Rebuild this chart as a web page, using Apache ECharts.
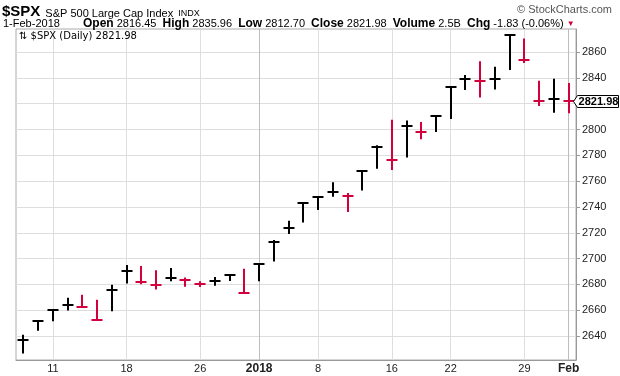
<!DOCTYPE html>
<html>
<head>
<meta charset="utf-8">
<script src="https://cdn.jsdelivr.net/npm/echarts@6/dist/echarts.min.js"></script>
<style>
html, body { margin: 0; padding: 0; background: #fff; }
#chart { width: 620px; height: 376px; }
</style>
</head>
<body>
<div id="chart"></div>
<script>
// daily bars, $SPX, 7-Dec-2017 .. 1-Feb-2018
var dates = ['2017-12-07','2017-12-08','2017-12-11','2017-12-12','2017-12-13','2017-12-14','2017-12-15',
  '2017-12-18','2017-12-19','2017-12-20','2017-12-21','2017-12-22','2017-12-26','2017-12-27','2017-12-28',
  '2017-12-29','2018-01-02','2018-01-03','2018-01-04','2018-01-05','2018-01-08','2018-01-09','2018-01-10',
  '2018-01-11','2018-01-12','2018-01-16','2018-01-17','2018-01-18','2018-01-19','2018-01-22','2018-01-23',
  '2018-01-24','2018-01-25','2018-01-26','2018-01-29','2018-01-30','2018-01-31','2018-02-01'];
var highs = [2640.99,2651.65,2660.33,2669.72,2671.88,2668.09,2679.63,2694.97,2694.19,2691.01,2692.64,2685.35,
  2682.40,2685.64,2687.66,2692.12,2695.89,2714.37,2729.29,2743.45,2748.51,2759.14,2750.80,2767.56,2787.85,
  2807.54,2807.04,2805.83,2810.33,2833.03,2842.24,2852.97,2848.56,2872.87,2870.62,2837.75,2839.26,2835.96];
var lows = [2626.53,2644.10,2651.47,2659.78,2662.85,2652.01,2659.14,2680.74,2680.19,2676.11,2682.40,2678.13,
  2677.96,2678.91,2682.69,2673.61,2682.36,2697.77,2719.07,2727.92,2737.60,2747.86,2736.06,2752.78,2769.64,
  2768.64,2778.38,2792.56,2798.08,2808.12,2830.59,2824.81,2830.94,2846.18,2851.48,2818.27,2813.04,2812.70];
var closes = [2636.98,2651.50,2659.99,2664.11,2662.85,2652.01,2675.81,2690.16,2681.47,2679.25,2684.57,2683.34,
  2680.50,2682.62,2687.54,2673.61,2695.81,2713.06,2723.99,2743.15,2747.71,2751.29,2748.23,2767.56,2786.24,
  2776.42,2802.56,2798.03,2810.30,2832.97,2839.13,2837.54,2839.25,2872.87,2853.53,2822.43,2823.81,2821.98];

var labelDates = ['2017-12-11','2017-12-18','2017-12-26','2018-01-02','2018-01-08','2018-01-16','2018-01-22','2018-01-29','2018-02-01'];
var labelTexts = ['11','18','26','2018','8','16','22','29','Feb'];
var monthStarts = ['2018-01-02','2018-02-01'];
var yTicks = [2640,2660,2680,2700,2720,2740,2760,2780,2800,2820,2840,2860];
var yLabels = [2640,2660,2680,2700,2720,2740,2760,2780,2800,2840,2860];

var UP = '#000000', DOWN = '#d2003c';
var FONT = 'Liberation Sans';

var barData = dates.map(function (d, i) {
  var up = i === 0 || closes[i] >= closes[i - 1] ? 1 : 0;
  return [i, highs[i], lows[i], closes[i], up];
});
var last = dates.length - 1;

function renderBar(params, api) {
  var i = api.value(0);
  var hi = api.coord([i, api.value(1)]);
  var lo = api.coord([i, api.value(2)]);
  var cl = api.coord([i, api.value(3)]);
  var color = api.value(4) ? UP : DOWN;
  var x = Math.round(hi[0]);
  var cy = Math.round(cl[1]);
  var kids = [
    { type: 'line', shape: { x1: x, y1: hi[1], x2: x, y2: lo[1] }, style: { stroke: color, lineWidth: 2 } },
    { type: 'line', shape: { x1: x - 5.5, y1: cy, x2: x + 5.5, y2: cy }, style: { stroke: color, lineWidth: 2 } }
  ];
  if (i === last) {
    // last price tag on the axis
    kids.push({
      type: 'polygon',
      shape: { points: [[x + 4.5, cy + 0.5], [x + 8.5, cy - 5.5], [x + 49.5, cy - 5.5], [x + 49.5, cy + 6.5], [x + 8.5, cy + 6.5]] },
      style: { fill: '#fff', stroke: '#000', lineWidth: 1 }
    });
    kids.push({
      type: 'text',
      style: { text: closes[last].toFixed(2), x: x + 29.5, y: cy + 1, align: 'center', verticalAlign: 'middle',
        font: 'bold 11px "' + FONT + '"', fill: '#000' }
    });
  }
  return { type: 'group', children: kids };
}

var option = {
  animation: false,
  backgroundColor: '#fff',
  title: [
    { text: '{a|$SPX} {b|S&P 500 Large Cap Index} {c|INDX}', left: 2, top: 3, padding: 0,
      textStyle: { rich: {
        a: { fontFamily: FONT, fontSize: 15, fontWeight: 'bold', color: '#000' },
        b: { fontFamily: FONT, fontSize: 11, fontWeight: 'normal', color: '#000', padding: [3, 0, 0, 0] },
        c: { fontFamily: FONT, fontSize: 9, fontWeight: 'normal', color: '#000', padding: [3, 0, 0, 0] } } } },
    { text: '© StockCharts.com', right: 8, top: 4, padding: 0,
      textStyle: { fontFamily: FONT, fontSize: 11, fontWeight: 'normal', color: '#555' } },
    { text: '1-Feb-2018', left: 3, top: 18, padding: 0,
      textStyle: { fontFamily: FONT, fontSize: 11, fontWeight: 'normal', color: '#000' } },
    { text: '{k|Open} 2816.45  {k|High} 2835.96  {k|Low} 2812.70  {k|Close} 2821.98  {k|Volume} 2.5B  {k|Chg} -1.83 (-0.06%) {r|▼}',
      left: 83, top: 18, padding: 0,
      textStyle: { fontFamily: FONT, fontSize: 11, fontWeight: 'normal', color: '#000',
        rich: { k: { fontFamily: FONT, fontSize: 12, fontWeight: 'bold', color: '#000' },
                r: { fontSize: 8, color: DOWN } } } },
    { text: '⇅ $SPX (Daily) 2821.98', left: 19, top: 31, padding: 0,
      textStyle: { fontFamily: 'DejaVu Sans', fontSize: 10, fontWeight: 'normal', color: '#000' } }
  ],
  grid: { left: 16, top: 29, width: 560, height: 331, show: true, borderColor: '#aaa', borderWidth: 1 },
  xAxis: {
    type: 'category', data: dates, boundaryGap: true,
    axisLine: { lineStyle: { color: '#999' } },
    axisTick: { alignWithLabel: true, interval: 0, length: 3, lineStyle: { color: '#999' } },
    axisLabel: {
      interval: function (i, v) { return labelDates.indexOf(v) >= 0; },
      formatter: function (v) {
        var t = labelTexts[labelDates.indexOf(v)];
        return monthStarts.indexOf(v) >= 0 ? '{m|' + t + '}' : t;
      },
      margin: 3, fontFamily: FONT, fontSize: 11, color: '#222',
      rich: { m: { fontFamily: FONT, fontSize: 12, fontWeight: 'bold', color: '#222' } }
    },
    splitLine: { show: false }
  },
  yAxis: {
    type: 'value', position: 'right', min: 2621.4, max: 2877.9, scale: true,
    axisLine: { show: true, lineStyle: { color: '#999' } },
    axisTick: { show: true, customValues: yTicks, length: 4, lineStyle: { color: '#999' } },
    axisLabel: { customValues: yLabels, margin: 6, fontFamily: FONT, fontSize: 11, color: '#222',
      formatter: function (v) { return String(v); } },
    splitLine: { show: true, lineStyle: { color: '#dedede' } }
  },
  series: [{
    type: 'custom', z: 3,
    renderItem: renderBar,
    data: barData,
    markLine: {
      z: 1, silent: true, symbol: 'none', label: { show: false },
      data: labelDates.map(function (d) {
        return { xAxis: d, lineStyle: { color: monthStarts.indexOf(d) >= 0 ? '#bdbdbd' : '#dedede', width: 1, type: 'solid' } };
      })
    }
  }]
};

echarts.init(document.getElementById('chart')).setOption(option);
</script>
</body>
</html>
